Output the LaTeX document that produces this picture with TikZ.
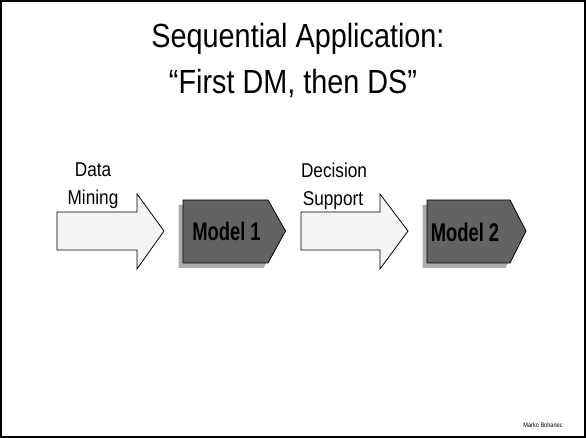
\documentclass[tikz,border=0pt]{standalone}
\usepackage{fontspec}
\setmainfont{Liberation Sans}
\newfontfamily\narrowsans[FakeStretch=0.86]{Liberation Sans}
\newfontfamily\boldnarrow[FakeStretch=0.72]{Liberation Sans Bold}
\definecolor{arrowfill}{HTML}{F4F4F4}
\definecolor{modelfill}{HTML}{636363}
\definecolor{shadowgray}{HTML}{ABABAB}
\tikzset{
  blockarrow/.style={draw=black, line width=0.8pt, fill=arrowfill, line join=miter},
  modelshape/.style={draw=black, line width=0.8pt, fill=modelfill, line join=miter},
  shadowshape/.style={fill=shadowgray, draw=none},
  titletext/.style={font=\narrowsans\fontsize{33.5}{40}\selectfont, anchor=base, inner sep=0pt},
  labeltext/.style={font=\narrowsans\fontsize{20}{24}\selectfont, anchor=base, inner sep=0pt},
  modeltext/.style={font=\boldnarrow\fontsize{25.5}{30}\selectfont, anchor=base, inner sep=0pt},
  footertext/.style={font=\narrowsans\fontsize{6.5}{8}\selectfont, anchor=base, inner sep=0pt}
}
\begin{document}
\begin{tikzpicture}[x=1pt, y=-1pt]
  \useasboundingbox (0,0) rectangle (586,438);
  \fill[white] (0,0) rectangle (586,438);
  % slide frame
  \draw[line width=2.2pt] (1.2,1.2) rectangle (584.8,436.8);

  % title
  \node[titletext] (title1) at (298,48) {Sequential Application:};
  \node[titletext] (title2) at (293,94) {“First DM, then DS”};

  % block arrow: data mining
  \draw[blockarrow] (57,212) -- (137,212) -- (137,194) -- (164,231)
        -- (137,269) -- (137,250) -- (57,250) -- cycle;
  \node[labeltext] (dm1) at (93,177) {Data};
  \node[labeltext] (dm2) at (93,205) {Mining};

  % model 1 with drop shadow
  \fill[shadowshape] (178.5,205) -- (263.5,205) -- (281,235) -- (263.5,268) -- (178.5,268) -- cycle;
  \draw[modelshape] (183,200) -- (268,200) -- (285.5,231) -- (268,263) -- (183,263) -- cycle;
  \node[modeltext, text=black] (model1) at (226.5,241) {Model 1};

  % block arrow: decision support
  \draw[blockarrow] (301,212) -- (380,212) -- (380,194) -- (408,231)
        -- (380,269) -- (380,250) -- (301,250) -- cycle;
  \node[labeltext] (ds1) at (334,178) {Decision};
  \node[labeltext] (ds2) at (333,206) {Support};

  % model 2 with drop shadow
  \fill[shadowshape] (422.5,205) -- (505.5,205) -- (521,235) -- (505.5,268) -- (422.5,268) -- cycle;
  \draw[modelshape] (427,200) -- (510,200) -- (526,231) -- (510,263) -- (427,263) -- cycle;
  \node[modeltext, text=black] (model2) at (465,242) {Model 2};

  % footer
  \node[footertext] (author) at (543,427) {Marko Bohanec};
\end{tikzpicture}
\end{document}
